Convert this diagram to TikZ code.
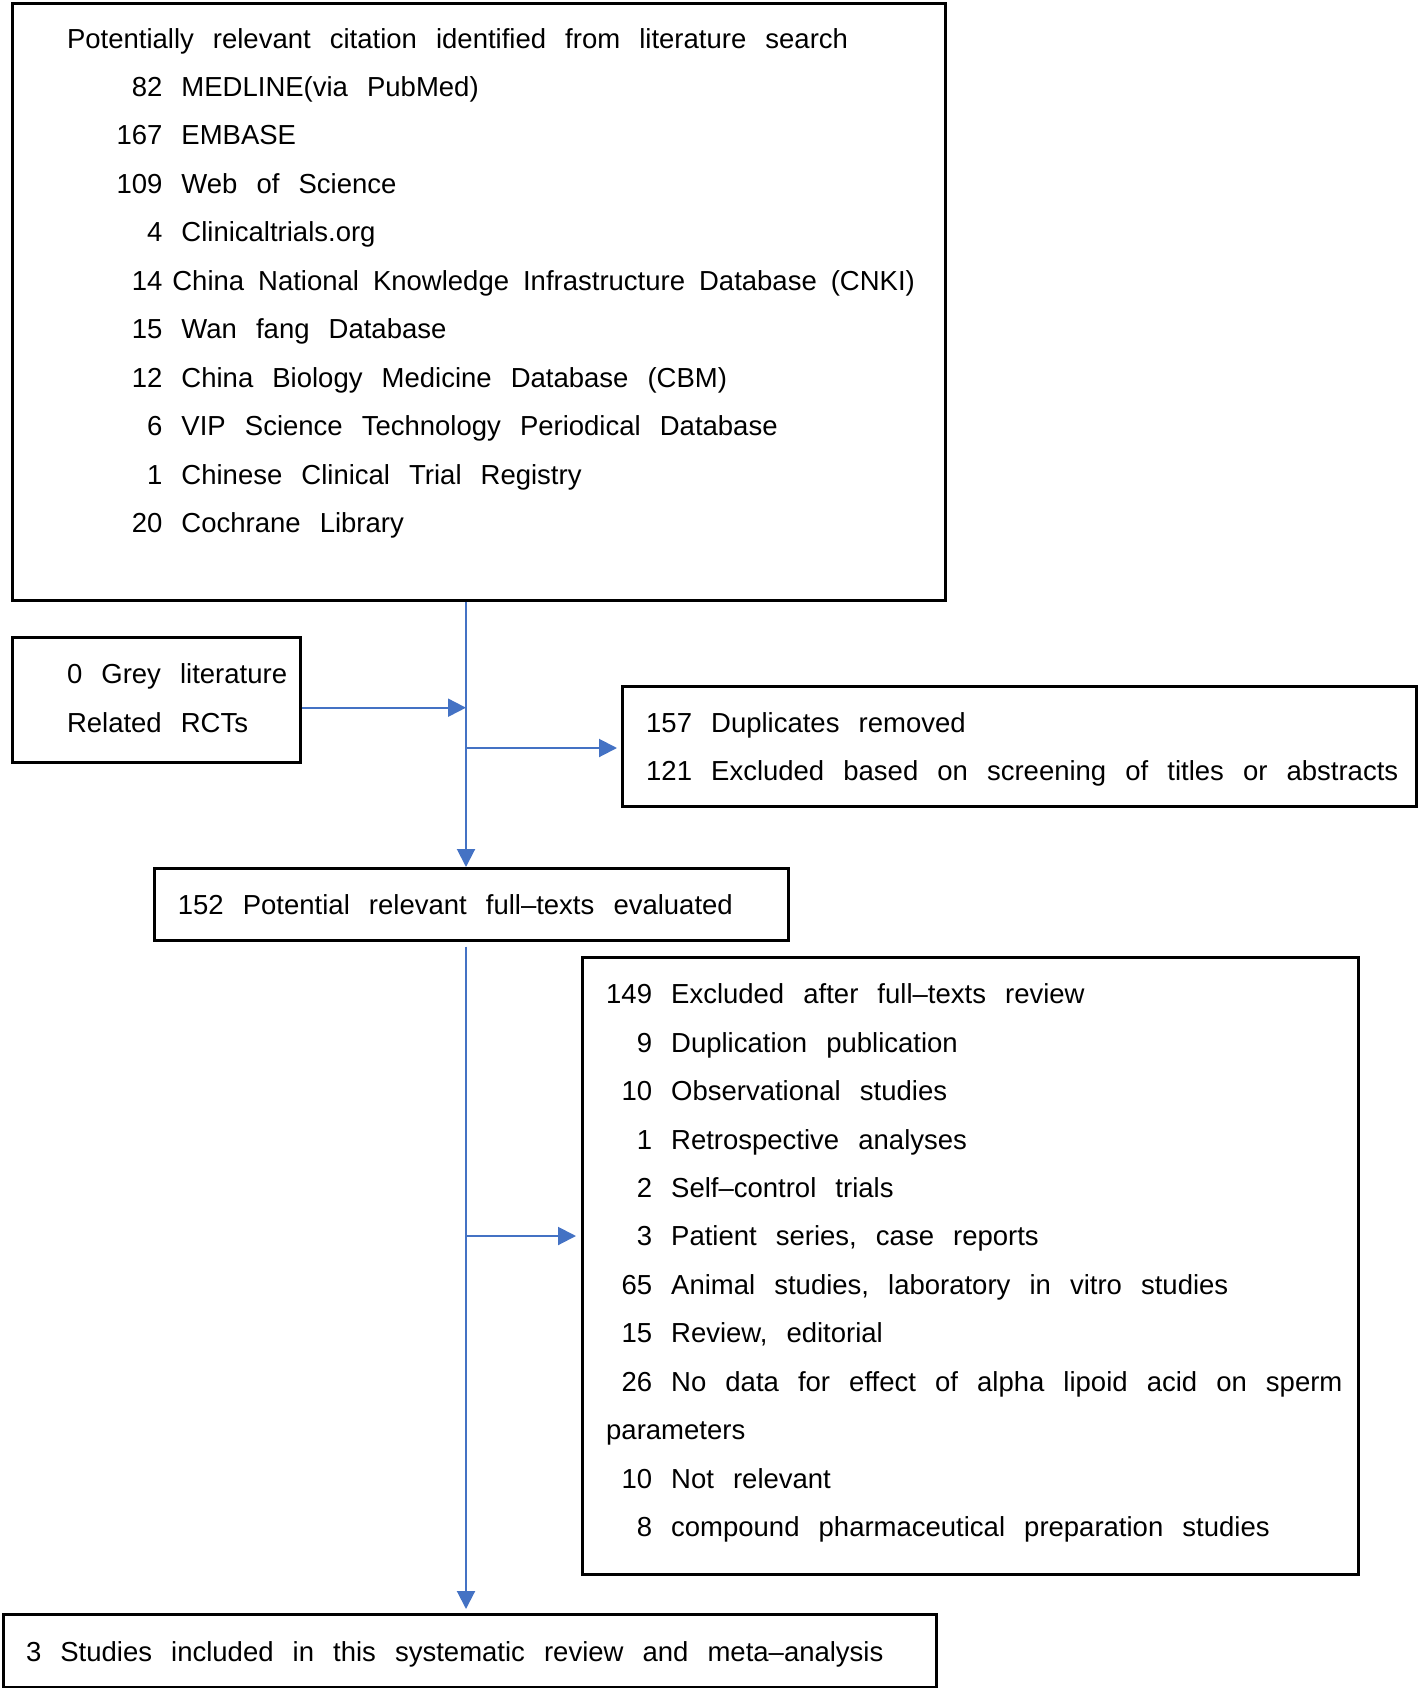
\documentclass[tikz,border=0pt]{standalone}
\usepackage{fontspec}
\setmainfont{Liberation Sans}[WordSpace=2.5]
\usetikzlibrary{arrows.meta}
\definecolor{arrblue}{HTML}{4472C4}
\newcommand\fs{\fontsize{27.5}{48.46}\selectfont}
\newlength\dw
\begin{document}
\settowidth{\dw}{\fs 000}%
\begin{tikzpicture}[x=1pt,y=-1pt,
  box/.style={draw=black, line width=2.6pt, inner sep=0pt, anchor=north west},
  txt/.style={anchor=base west, inner sep=0pt, align=left, font=\fs},
  arr/.style={draw=arrblue, line width=2pt, -{Triangle[length=18pt,width=18pt]}}]
\useasboundingbox (0,0) rectangle (1417,1688);
% boxes
\node[box, minimum width=933pt, minimum height=597pt] (search) at (11,2) {};
\node[box, minimum width=288pt, minimum height=125pt] (grey) at (11,636) {};
\node[box, minimum width=794pt, minimum height=120pt] (dup) at (621,685) {};
\node[box, minimum width=634pt, minimum height=72pt] (full) at (153,867) {};
\node[box, minimum width=776pt, minimum height=617pt] (excl) at (581,956) {};
\node[box, minimum width=933pt, minimum height=73pt] (final) at (2,1613) {};
% texts (anchored at the baseline of their last line)
\node[txt] (searchtxt) at (66.8,532.6) {Potentially relevant citation identified from literature search\\
\hspace*{49.5pt}\makebox[\dw][r]{82} MEDLINE(via PubMed)\\
\hspace*{49.5pt}\makebox[\dw][r]{167} EMBASE\\
\hspace*{49.5pt}\makebox[\dw][r]{109} Web of Science\\
\hspace*{49.5pt}\makebox[\dw][r]{4} Clinicaltrials.org\\
\hspace*{49.5pt}\makebox[\dw][r]{14}\hspace{10pt}{\spaceskip=14pt China National Knowledge Infrastructure Database (CNKI)}\\
\hspace*{49.5pt}\makebox[\dw][r]{15} Wan fang Database\\
\hspace*{49.5pt}\makebox[\dw][r]{12} China Biology Medicine Database (CBM)\\
\hspace*{49.5pt}\makebox[\dw][r]{6} VIP Science Technology Periodical Database\\
\hspace*{49.5pt}\makebox[\dw][r]{1} Chinese Clinical Trial Registry\\
\hspace*{49.5pt}\makebox[\dw][r]{20} Cochrane Library};
\node[txt] (greytxt) at (66.8,732) {0 Grey literature\\Related RCTs};
\node[txt] (duptxt) at (646,780.5) {157 Duplicates removed\\121 Excluded based on screening of titles or abstracts};
\node[txt] (fulltxt) at (177.7,914) {152 Potential relevant full–texts evaluated};
\node[txt] (excltxt) at (606,1536.7) {\makebox[\dw][r]{149} Excluded after full–texts review\\
\makebox[\dw][r]{9} Duplication publication\\
\makebox[\dw][r]{10} Observational studies\\
\makebox[\dw][r]{1} Retrospective analyses\\
\makebox[\dw][r]{2} Self–control trials\\
\makebox[\dw][r]{3} Patient series, case reports\\
\makebox[\dw][r]{65} Animal studies, laboratory in vitro studies\\
\makebox[\dw][r]{15} Review, editorial\\
\makebox[\dw][r]{26} No data for effect of alpha lipoid acid on sperm\\
parameters\\
\makebox[\dw][r]{10} Not relevant\\
\makebox[\dw][r]{8} compound pharmaceutical preparation studies};
\node[txt] (finaltxt) at (25.8,1661.5) {3 Studies included in this systematic review and meta–analysis};
% connectors
\coordinate (tx) at (466,0);
\coordinate (ga) at (0,707.7);
\coordinate (da) at (0,748);
\coordinate (ea) at (0,1236);
\draw[arr] (search.south -| tx) -- (full.north -| tx);
\draw[arr] (grey.east |- ga) -- (tx |- ga);
\draw[arr, shorten >=4pt] (tx |- da) -- (dup.west |- da);
\draw[arr, shorten <=5pt, shorten >=4pt] (full.south -| tx) -- (final.north -| tx);
\draw[arr, shorten >=5pt] (tx |- ea) -- (excl.west |- ea);
\end{tikzpicture}
\end{document}
